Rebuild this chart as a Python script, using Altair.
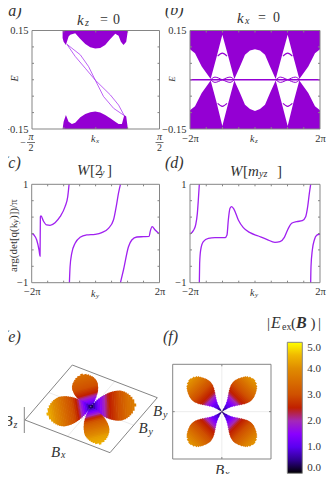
import altair as alt
import pandas as pd

# ---------- data ----------
a_top_k = [-.26,-.252,-.234,-.213,-.2,-.161,-.121,-.082,-.043,-.004,.035,.074,.114,.153,.179,.197,.218,.239,.252]
a_top_e = [.127,.116,.106,.132,.137,.142,.124,.109,.099,.095,.097,.106,.124,.14,.134,.116,.106,.116,.15]
a_bot_k = [-.26,-.252,-.234,-.213,-.187,-.161,-.121,-.082,-.043,-.004,.035,.074,.114,.153,.179,.205,.224,.239,.252]
a_bot_e = [-.15,-.128,-.107,-.128,-.135,-.131,-.114,-.104,-.099,-.097,-.1,-.107,-.117,-.128,-.135,-.135,-.107,-.112,-.15]
a_l1_k = [-.226,-.121,-.056,-.004,.061,.14,.223]
a_l1_e = [.108,.076,.04,-.001,-.051,-.087,-.109]
a_l2_k = [-.226,-.161,-.082,-.004,.114,.179,.223]
a_l2_e = [.108,.071,.035,-.001,-.046,-.077,-.109]

b_k = [-2,-1.846,-1.64,-1.364,-1.18,-1.005,-.82,-.636,-.462,-.308,-.154,0,.154,.308,.462,.636,.82,1.005,1.18,1.364,1.64,1.846,2]
b_top = [.093,.081,.04,.002,.07,.137,.07,.002,.04,.076,.089,.093,.089,.076,.04,.002,.07,.137,.07,.002,.04,.081,.093]
b_bot = [-.093,-.081,-.04,-.002,-.07,-.141,-.07,-.002,-.04,-.076,-.089,-.095,-.089,-.076,-.04,-.002,-.07,-.141,-.07,-.002,-.04,-.081,-.093]
b_arc_k = [-.145,0,.145]
b_arc_e = [.072,.081,.072]
b_lens_k = [-.36,-.225,0,.235,.37]
b_lens_e = [0,.008,0,-.008,0]

c_k1 = [-2,-1.927,-1.843,-1.77,-1.739,-1.728,-1.708,-1.634,-1.53,-1.426,-1.269,-1.112,-.956,-.872,-.83]
c_v1 = [.003,-.03,-.132,-.336,-.458,.342,.356,.254,.173,.166,.22,.342,.546,.749,1]
c_k2 = [-.82,-.799,-.747,-.642,-.486,-.277,-.016,.193,.402,.559,.663,.715,.778]
c_v2 = [-1,-.675,-.403,-.2,-.078,-.03,-.017,.017,.105,.275,.614,.817,1]
c_k3 = [.778,.872,1.029,1.133,1.29,1.499,1.676,1.708,1.77,1.864,2]
c_v3 = [-1,-.742,-.268,-.132,-.071,-.064,-.058,.037,.139,.071,-.01]

d_k1 = [-2,-1.897,-1.826,-1.774,-1.744,-1.713]
d_v1 = [-.01,.058,.173,.41,.681,1]
d_k2 = [-1.713,-1.703,-1.672,-1.59,-1.436,-1.231,-.923,-.862,-.821,-.769,-.718,-.646,-.513,-.359,-.154,.103,.359,.615,.769,.903,1.026,1.128,1.282,1.456,1.559,1.621,1.672,1.713]
d_v2 = [-1,-.607,-.336,-.166,-.098,-.085,-.085,-.031,.275,.512,.546,.492,.275,.119,.017,-.051,-.119,-.18,-.166,-.078,.105,.207,.241,.261,.342,.546,.817,1]
d_k3 = [1.713,1.723,1.764,1.826,1.897,2]
d_v3 = [-1,-.675,-.336,-.132,-.037,-.01]

f_t = [0,1.5,3,4.5,6,7.5,9,10.5,12,13.5,15,16.5,18,19.5,21,22.5,24,25.5,27,28.5,30,31.5,33,34.5,36,37.5,39,40.5,42,43.5,44.5]
f_hw = [0,.4,.8,1.2,1.7,2.2,2.8,3.5,4.3,5.2,6.2,7.2,8.2,9.2,10.1,11,11.7,12.3,12.7,13,13,12.8,12.4,11.9,11.2,10.5,9.6,8.6,7.2,5,2]
f_val = [0,.3,.5,.7,.8,1,1.1,1.2,1.4,1.6,1.8,2,2.2,2.4,2.5,2.6,2.7,2.8,2.9,3,3.1,3.2,3.3,3.4,3.5,3.6,3.7,3.8,3.9,4,4.05]
f_dirs = [(.707,.707),(-.707,.707),(-.707,-.707),(.707,-.707)]

e_frac = [i/25 for i in range(26)]
e_front_hw = [0,1.5,3,4.4,5.7,6.7,7.7,8.6,9.4,10.2,10.8,11.3,11.8,12.2,12.4,12.6,12.7,12.6,12.2,11.7,10.9,9.9,8.6,7,4.8,1.3]
e_side_hw = [0,1.8,3.6,5.3,6.8,8,9.2,10.2,11.1,12,12.8,13.4,14,14.4,14.7,14.9,15,14.9,14.4,13.8,12.9,11.7,10.2,8.3,5.7,1.5]
e_back_hw = [0,1.6,3.1,4.6,5.9,6.9,7.9,8.8,9.6,10.4,11.1,11.6,12.1,12.5,12.7,12.9,13,12.9,12.5,12,11.2,10.1,8.8,7.2,4.9,1.3]
e_front_v = [0,.4,.8,1.1,1.4,1.7,2.0,2.3,2.6,2.8,3.0,3.2,3.3,3.4,3.5,3.6,3.7,3.8,3.9,4,4.1,4.2,4.25,4.3,4.35,4.4]
e_left_v = [0,.4,.8,1.1,1.4,1.7,2.0,2.3,2.5,2.7,2.9,3,3.1,3.2,3.3,3.4,3.5,3.6,3.7,3.8,3.9,4,4.1,4.2,4.3,4.4]
e_right_v = [0,.3,.6,.9,1.2,1.4,1.6,1.8,2,2.2,2.4,2.5,2.6,2.7,2.8,2.9,3,3.1,3.2,3.3,3.4,3.5,3.55,3.6,3.7,3.8]
e_back_v = [0,.4,.8,1.1,1.3,1.5,1.7,1.9,2.1,2.3,2.5,2.6,2.7,2.8,2.9,3,3.05,3.1,3.15,3.2,3.25,3.3,3.35,3.4,3.45,3.5]
e_lobes = [((-.273,.962),33,e_back_hw,e_back_v),
           ((1,.038),44.3,e_side_hw,e_right_v),
           ((-.985,-.168),43.6,e_side_hw,e_left_v),
           ((.247,-.969),37.8,e_front_hw,e_front_v)]
e_box_x = [-18.4,66.6,19.3,-65.7]
e_box_y = [41.7,9,-46,-13.3]

cb_values = [0,.5,1,1.5,2,2.5,3,4,4.5,5]
cb_colors = ['#000000','#2f0090','#5a00f0','#8a00ff','#a428b8','#c02000','#cf5000','#e08c00','#f0b800','#ffff00']
cb_ticks = [0,1,2,3,4,5]

VIOLET = '#9400d3'
LINE = '#a020f0'
GRAY = '#858585'
TXT = '#333333'
SERIF = 'Liberation Serif'
layers = []

def xs(dom, l, r):
    return alt.Scale(domain=dom, range=[l-8, r-8], nice=False, zero=False)

def ys(dom, b, t):
    return alt.Scale(domain=dom, range=[b-8, t-8], nice=False, zero=False)

def text(px, py, s, size=10, italic=False, align='left', angle=0, color=TXT, weight='normal'):
    kw = dict(text=s, fontSize=size, font=SERIF, align=align, baseline='middle', color=color, fontWeight=weight)
    if italic:
        kw['fontStyle'] = 'italic'
    if angle:
        kw['angle'] = angle
    layers.append(alt.Chart(pd.DataFrame({'a': [0]})).mark_text(**kw).encode(x=alt.value(px-8), y=alt.value(py-8)))

def line(xv, yv, sx, sy, color=LINE, w=1.3, interp='monotone'):
    df = pd.DataFrame({'x': xv, 'y': yv})
    layers.append(alt.Chart(df).mark_line(color=color, strokeWidth=w, interpolate=interp, clip=False).encode(
        x=alt.X('x:Q', scale=sx, axis=None), y=alt.Y('y:Q', scale=sy, axis=None)))

def area(xv, yv, edge, sx, sy):
    df = pd.DataFrame({'x': xv, 'y': yv, 'y2': [edge]*len(xv)})
    layers.append(alt.Chart(df).mark_area(color=VIOLET, opacity=1).encode(
        x=alt.X('x:Q', scale=sx, axis=None), y=alt.Y('y:Q', scale=sy, axis=None), y2='y2:Q'))

def ticks(xt, yt, dx, dy, sx, sy, ln=2):
    xlen = (dx[1]-dx[0])*ln/ (sx.range[1]-sx.range[0])
    ylen = (dy[1]-dy[0])*ln/ abs(sy.range[1]-sy.range[0])
    rows = []
    for v in xt:
        rows += [(v, dy[0], v, dy[0]+ylen), (v, dy[1], v, dy[1]-ylen)]
    for v in yt:
        rows += [(dx[0], v, dx[0]+xlen, v), (dx[1], v, dx[1]-xlen, v)]
    df = pd.DataFrame(rows, columns=['x', 'y', 'x2', 'y2'])
    layers.append(alt.Chart(df).mark_rule(color=GRAY, strokeWidth=1).encode(
        x=alt.X('x:Q', scale=sx, axis=None), x2='x2:Q',
        y=alt.Y('y:Q', scale=sy, axis=None), y2='y2:Q'))

def frame(dx, dy, sx, sy, l, b, xlab=None, ylab=None):
    df = pd.DataFrame({'x': [dx[0]], 'x2': [dx[1]], 'y': [dy[0]], 'y2': [dy[1]]})
    xax = None
    if xlab:
        xax = alt.Axis(orient='bottom', offset=(b-8)-466, values=list(dx), labelExpr=xlab, labelFont=SERIF,
                       labelFontSize=10.5, labelColor=TXT, labelPadding=4, ticks=False, domain=False,
                       grid=False, labelOverlap=False, labelFlush=False, title=None)
    yax = None
    if ylab:
        yax = alt.Axis(orient='left', offset=-(l-8), values=list(dy), labelExpr=ylab, labelFont=SERIF,
                       labelFontSize=10.5, labelColor=TXT, labelPadding=4, ticks=False, domain=False,
                       grid=False, labelOverlap=False, labelFlush=False, title=None)
    layers.append(alt.Chart(df).mark_rect(color='white', fillOpacity=0, stroke=GRAY, strokeWidth=1).encode(
        x=alt.X('x:Q', scale=sx, axis=xax), x2='x2:Q',
        y=alt.Y('y:Q', scale=sy, axis=yax), y2='y2:Q'))

# ---------- (a) ----------
dx, dy = [-.5, .5], [-.15, .15]
sx, sy = xs(dx, 32, 159.5), ys(dy, 129, 30.5)
area(a_top_k, a_top_e, .15, sx, sy)
area(a_bot_k, a_bot_e, -.15, sx, sy)
line(a_l1_k, a_l1_e, sx, sy, w=.7, interp='linear')
line(a_l2_k, a_l2_e, sx, sy, w=.7, interp='linear')
ticks([-.25, 0, .25], [-.1, -.05, 0, .05, .1], dx, dy, sx, sy)
frame(dx, dy, sx, sy, 32, 129, None, "datum.value<0?'−0.15':'0.15'")
text(3, 11, '(a)', 16, True)
text(77, 20, 'k', 15, True); text(85, 23, 'z', 10, True); text(100, 20, '=', 14); text(113, 20, '0', 14)
text(15, 78.5, 'E', 10, True, 'center', 270)
text(91, 139, 'k', 10, True); text(96, 141, 'x', 7, True)
text(23, 143, '−', 10, align='center'); text(31, 137, 'π', 10, True, 'center'); text(31, 148, '2', 10, align='center')
text(159.5, 137, 'π', 10, True, 'center'); text(159.5, 148, '2', 10, align='center')
for bx in [(27, 35), (155.5, 163.5)]:
    layers.append(alt.Chart(pd.DataFrame({'a': [0]})).mark_rule(color=TXT, strokeWidth=.7).encode(
        x=alt.value(bx[0]-8), x2=alt.value(bx[1]-8), y=alt.value(142.5-8)))

# ---------- (b) ----------
dx, dy = [-2, 2], [-.15, .15]
sx, sy = xs(dx, 190, 320), ys(dy, 129, 30.5)
area(b_k, b_top, .15, sx, sy)
area(b_k, b_bot, -.15, sx, sy)
line([-2, 2], [0, 0], sx, sy, color=VIOLET, w=1.6, interp='linear')
for c in (-1.005, 1.005):
    for s in (1, -1):
        line([c+v for v in b_arc_k], [s*v for v in b_arc_e], sx, sy, color=VIOLET, w=1.2)
        line([c+v for v in b_lens_k], [s*v for v in b_lens_e], sx, sy, color=VIOLET, w=1)
ticks([-1.5, -1, -.5, 0, .5, 1, 1.5], [-.1, -.05, 0, .05, .1], dx, dy, sx, sy)
frame(dx, dy, sx, sy, 190, 129, "datum.value<0?'−2π':'2π'", "datum.value<0?'−0.15':'0.15'")
text(165, 10, '(b)', 16, True)
text(237, 18, 'k', 15, True); text(245, 21, 'x', 10, True); text(258, 18, '=', 14); text(273, 18, '0', 14)
text(172, 79, 'E', 9, True, 'center', 270)
text(250, 139, 'k', 10, True); text(255, 141, 'z', 7, True)

# ---------- (c) ----------
dx, dy = [-2, 2], [-1, 1]
sx, sy = xs(dx, 31.7, 159.5), ys(dy, 282.7, 184.3)
line(c_k1, c_v1, sx, sy); line(c_k2, c_v2, sx, sy); line(c_k3, c_v3, sx, sy)
ticks([-1.5, -1, -.5, 0, .5, 1, 1.5], [-2/3, -1/3, 0, 1/3, 2/3], dx, dy, sx, sy)
frame(dx, dy, sx, sy, 31.7, 282.7, "datum.value<0?'−2π':'2π'", "datum.value<0?'−1':'1'")
text(3, 163, '(c)', 16, True)
text(77, 170, 'W', 15, True); text(90, 170, '[2', 15); text(100, 173, 'y', 10, True); text(107, 170, ']', 15)
text(14, 272, 'arg(det[q(k', 11, False, 'left', 270); text(16, 223, 'y', 8, True, 'left', 270); text(14, 219, ')])/π', 11, False, 'left', 270)
text(91, 294, 'k', 10, True); text(96, 296, 'y', 7, True)

# ---------- (d) ----------
sx, sy = xs(dx, 190, 320), ys(dy, 282.7, 184.3)
line(d_k1, d_v1, sx, sy); line(d_k2, d_v2, sx, sy); line(d_k3, d_v3, sx, sy)
ticks([-1.5, -1, -.5, 0, .5, 1, 1.5], [-2/3, -1/3, 0, 1/3, 2/3], dx, dy, sx, sy)
frame(dx, dy, sx, sy, 190, 282.7, "datum.value<0?'−2π':'2π'", "datum.value<0?'−1':'1'")
text(165, 163, '(d)', 16, True)
text(230, 171, 'W', 15, True); text(243, 171, '[', 15); text(248, 171, 'm', 15, True); text(259, 174, 'yz', 10, True); text(277, 171, ']', 15)
text(250, 293, 'k', 10, True); text(255, 295, 'y', 7, True)

# ---------- colour scale ----------
def strips(sx, sy, rows):
    df = pd.DataFrame(rows, columns=['x', 'y', 'x2', 'y2', 'v'])
    return alt.Chart(df).mark_rule(strokeWidth=2.2, strokeCap='butt').encode(
        x=alt.X('x:Q', scale=sx, axis=None), x2='x2:Q',
        y=alt.Y('y:Q', scale=sy, axis=None), y2='y2:Q',
        color=alt.Color('v:Q',
                        scale=alt.Scale(domain=cb_values, range=cb_colors, interpolate='rgb'),
                        legend=alt.Legend(orient='none', legendX=287.3-8, legendY=342.3-8, title=None,
                                          gradientLength=131, gradientThickness=15, gradientStrokeColor=GRAY,
                                          gradientStrokeWidth=1, values=cb_ticks, format='.1f',
                                          labelFont=SERIF, labelFontSize=11, labelColor=TXT, labelOffset=5,
                                          padding=0)),
        order=alt.Order('o:Q')).transform_calculate(o='datum.v')

def strip_rows(dirs_t_hw_v):
    rows = []
    for (dxx, dyy), tl, hl, vl in dirs_t_hw_v:
        for t, h, v in zip(tl, hl, vl):
            cx, cy = t*dxx, t*dyy
            rows.append((cx-h*dyy, cy+h*dxx, cx+h*dyy, cy-h*dxx, v))
    return rows

# ---------- (e) ----------
ex, ey = [-70, 70], [-50, 50]
sx, sy = xs(ex, 20.7, 160.7), ys(ey, 456.7, 356.7)
mid = pd.DataFrame({'x': [(e_box_x[0]+e_box_x[1])/2, (e_box_x[3]+e_box_x[0])/2],
                    'y': [(e_box_y[0]+e_box_y[1])/2, (e_box_y[3]+e_box_y[0])/2],
                    'x2': [(e_box_x[2]+e_box_x[3])/2, (e_box_x[1]+e_box_x[2])/2],
                    'y2': [(e_box_y[2]+e_box_y[3])/2, (e_box_y[1]+e_box_y[2])/2]})
layers.append(alt.Chart(mid).mark_rule(color='#e4e4e4', strokeWidth=.7).encode(
    x=alt.X('x:Q', scale=sx, axis=None), x2='x2:Q', y=alt.Y('y:Q', scale=sy, axis=None), y2='y2:Q'))
box = pd.DataFrame({'x': e_box_x, 'y': e_box_y,
                    'x2': e_box_x[1:]+e_box_x[:1], 'y2': e_box_y[1:]+e_box_y[:1]})
layers.append(alt.Chart(box).mark_rule(color=GRAY, strokeWidth=1).encode(
    x=alt.X('x:Q', scale=sx, axis=None), x2='x2:Q', y=alt.Y('y:Q', scale=sy, axis=None), y2='y2:Q'))
erows = []
for d, L, hw, val in e_lobes:
    erows += strip_rows([(d, [L*f for f in e_frac], hw, val)])
df_e = pd.DataFrame(erows, columns=['x', 'y', 'x2', 'y2', 'v'])
df_e['o'] = range(len(df_e))
def strips2(df, sx, sy):
    return alt.Chart(df).mark_rule(strokeWidth=2.4, strokeCap='butt').encode(
        x=alt.X('x:Q', scale=sx, axis=None), x2='x2:Q',
        y=alt.Y('y:Q', scale=sy, axis=None), y2='y2:Q',
        color=alt.Color('v:Q',
                        scale=alt.Scale(domain=cb_values, range=cb_colors, interpolate='rgb'),
                        legend=alt.Legend(orient='none', legendX=287.3-8, legendY=342.3-8, title=None,
                                          gradientLength=131, gradientThickness=15, gradientStrokeColor=GRAY,
                                          gradientStrokeWidth=1, values=cb_ticks, format='.1f',
                                          labelFont=SERIF, labelFontSize=11, labelColor=TXT, labelOffset=5,
                                          padding=0)))
layers.append(strips2(df_e, sx, sy))
layers.append(alt.Chart(pd.DataFrame({'a': [0]})).mark_rule(color=GRAY, strokeWidth=1).encode(
    x=alt.value(24.3-8), y=alt.value(407-8), y2=alt.value(433-8)))
text(3, 337, '(e)', 16, True)
text(51, 452, 'B', 15, True); text(61, 455, 'x', 10, True)
text(138.5, 428, 'B', 15, True); text(148.5, 432, 'y', 10, True)
text(153, 411, 'B', 15, True); text(163, 415, 'y', 10, True)
text(3.5, 421, 'B', 15, True); text(13.5, 425, 'z', 10, True)

# ---------- (f) ----------
fx, fy = [-49.2, 49.2], [-47.4, 47.4]
sx, sy = xs(fx, 172.7, 271), ys(fy, 459, 364.3)
cross = pd.DataFrame({'x': [fx[0], 0], 'x2': [fx[1], 0], 'y': [0, fy[0]], 'y2': [0, fy[1]]})
layers.append(alt.Chart(cross).mark_rule(color='#e4e4e4', strokeWidth=.7).encode(
    x=alt.X('x:Q', scale=sx, axis=None), x2='x2:Q', y=alt.Y('y:Q', scale=sy, axis=None), y2='y2:Q'))
df_f = pd.DataFrame(strip_rows([(d, f_t, f_hw, f_val) for d in f_dirs]), columns=['x', 'y', 'x2', 'y2', 'v'])
layers.append(strips2(df_f, sx, sy))
ticks([0], [0], fx, fy, sx, sy)
frame(fx, fy, sx, sy, 172.7, 459)
text(163, 337, '(f)', 16, True)
text(215, 470, 'B', 15, True); text(225, 474, 'x', 10, True)

# ---------- colour bar decorations ----------
tdf = pd.DataFrame({'v': cb_ticks[1:-1]})
cby = alt.Scale(domain=[0, 5], range=[473.3-8, 342.3-8], nice=False, zero=False)
layers.append(alt.Chart(tdf).mark_rule(color='#333333', strokeWidth=.7).encode(
    y=alt.Y('v:Q', scale=cby, axis=None), x=alt.value(298.5-8), x2=alt.value(302-8)))
text(267, 323, '|', 15); text(271, 323, 'E', 16, True); text(282, 327, 'ex', 10)
text(291, 323, '(', 15); text(296, 323, 'B', 16, True, weight='bold'); text(310.5, 323, ')', 15); text(318, 323, '|', 15)

chart = alt.layer(*layers).resolve_scale(x='independent', y='independent').properties(
    width=319, height=466, padding=0, autosize=alt.AutoSizeParams(type='none')
).configure_view(stroke=None).configure(background='white') if False else alt.layer(*layers).resolve_scale(
    x='independent', y='independent').properties(
    width=319, height=466, padding=0, autosize=alt.AutoSizeParams(type='none')
).configure_view(stroke=None)

chart.save("out.html", embed_options={"renderer": "svg", "actions": False})
